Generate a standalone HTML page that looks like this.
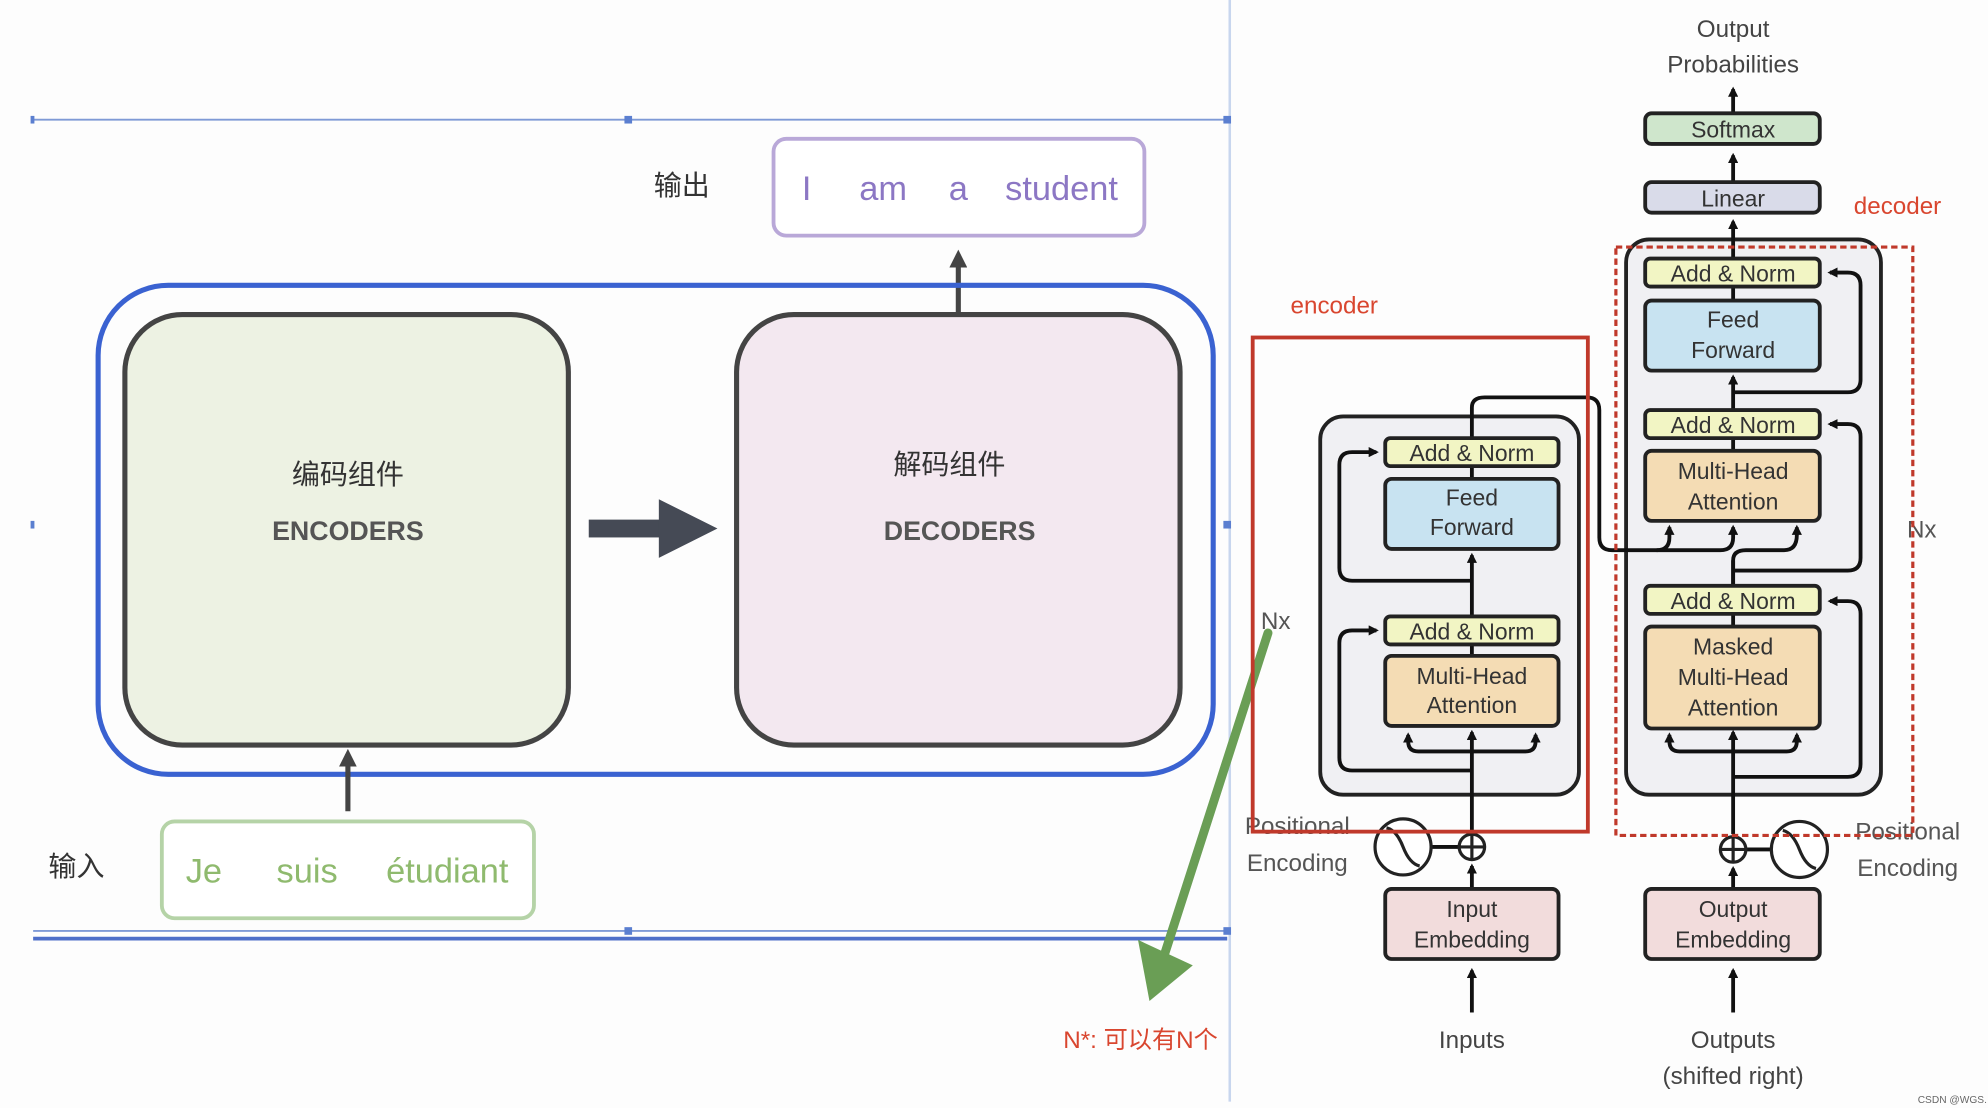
<!DOCTYPE html>
<html><head><meta charset="utf-8"><style>
html,body{margin:0;padding:0;background:#fff;}
svg{display:block;}
text{font-family:"Liberation Sans","Noto Sans CJK SC",sans-serif;}
</style></head><body>
<svg width="1988" height="1108" viewBox="0 0 1560 870" preserveAspectRatio="none" xmlns="http://www.w3.org/2000/svg">
<defs>
<marker id="ah" markerWidth="8" markerHeight="8" refX="6" refY="4" orient="auto" markerUnits="userSpaceOnUse"><path d="M0,0 L8,4 L0,8 Z" fill="#111"/></marker>
<marker id="ah2" markerWidth="14" markerHeight="14" refX="10" refY="7" orient="auto" markerUnits="userSpaceOnUse"><path d="M0,0 L14,7 L0,14 Z" fill="#444"/></marker>
</defs>
<rect width="1560" height="870" fill="#fdfdfd"/>
<!-- left panel guides -->
<line x1="965" y1="0" x2="965" y2="865" stroke="#c8d6ee" stroke-width="2"/>
<line x1="26" y1="94" x2="963" y2="94" stroke="#7f9ad6" stroke-width="1.5"/>
<line x1="26" y1="731" x2="963" y2="731" stroke="#7f9ad6" stroke-width="1.5"/>
<line x1="26" y1="737" x2="963" y2="737" stroke="#4e6fc9" stroke-width="3"/>
<g fill="#5b7fd0"><rect x="490" y="91" width="6" height="6"/><rect x="960" y="91" width="6" height="6"/><rect x="490" y="728" width="6" height="6"/><rect x="960" y="728" width="6" height="6"/><rect x="960" y="409" width="6" height="6"/><rect x="24" y="409" width="3" height="6"/><rect x="24" y="91" width="3" height="6"/></g>

<text x="535" y="153" font-size="22" text-anchor="middle" fill="#333">输出</text>
<rect x="607" y="109" width="291" height="76" rx="10" fill="#fff" stroke="#b9a8d8" stroke-width="3"/>
<g font-size="27" fill="#8c77c4" text-anchor="middle"><text x="633" y="157">I</text><text x="693" y="157">am</text><text x="752" y="157">a</text><text x="833" y="157">student</text></g>
<line x1="752" y1="245" x2="752" y2="200" stroke="#444" stroke-width="4" marker-end="url(#ah2)"/>

<rect x="77" y="224" width="875" height="384" rx="55" fill="none" stroke="#3a62d1" stroke-width="4"/>
<rect x="98" y="247" width="348" height="338" rx="45" fill="#edf2e3" stroke="#444" stroke-width="4"/>
<rect x="578" y="247" width="348" height="338" rx="45" fill="#f3e8f0" stroke="#444" stroke-width="4"/>
<text x="273" y="380" font-size="22" text-anchor="middle" fill="#333">编码组件</text>
<text x="273" y="424" font-size="21" font-weight="bold" text-anchor="middle" fill="#555">ENCODERS</text>
<text x="745" y="372" font-size="22" text-anchor="middle" fill="#333">解码组件</text>
<text x="753" y="424" font-size="21" font-weight="bold" text-anchor="middle" fill="#555">DECODERS</text>
<rect x="462" y="408" width="58" height="14" fill="#454a55"/>
<polygon points="517,392 563,415 517,438" fill="#454a55"/>
<line x1="273" y1="637" x2="273" y2="592" stroke="#444" stroke-width="4" marker-end="url(#ah2)"/>

<text x="60" y="688" font-size="22" text-anchor="middle" fill="#333">输入</text>
<rect x="127" y="645" width="292" height="76" rx="10" fill="#fff" stroke="#b5d3a7" stroke-width="3"/>
<g font-size="27" fill="#8fba6e" text-anchor="middle"><text x="160" y="693">Je</text><text x="241" y="693">suis</text><text x="351" y="693">étudiant</text></g>

<!-- green arrow -->
<line x1="995" y1="497" x2="912" y2="755" stroke="#6a9e55" stroke-width="7" stroke-linecap="round"/>
<polygon points="893,738 936,758 902,786" fill="#6a9e55"/>
<text x="895" y="823" font-size="19" text-anchor="middle" fill="#d9462f">N*: 可以有N个</text>

<!-- transformer -->
<g font-size="19" fill="#444" text-anchor="middle">
<text x="1360" y="29">Output</text><text x="1360" y="57">Probabilities</text>
<text x="1155" y="823">Inputs</text><text x="1360" y="823">Outputs</text><text x="1360" y="851">(shifted right)</text>
</g>
<g font-size="19" fill="#d9462f" text-anchor="middle"><text x="1489" y="168">decoder</text><text x="1047" y="246">encoder</text></g>

<!-- gray containers -->
<rect x="1036" y="327" width="203" height="297" rx="18" fill="#f0f0f3" stroke="#222" stroke-width="3"/>
<rect x="1276" y="188" width="200" height="436" rx="18" fill="#f0f0f3" stroke="#222" stroke-width="3"/>

<g stroke="#111" stroke-width="3" fill="none">
<!-- top stack lines -->
<line x1="1360" y1="88" x2="1360" y2="70" marker-end="url(#ah)"/>
<line x1="1360" y1="142" x2="1360" y2="122" marker-end="url(#ah)"/>
<line x1="1360" y1="202" x2="1360" y2="174" marker-end="url(#ah)"/>
<!-- decoder center -->
<line x1="1360" y1="655" x2="1360" y2="575" marker-end="url(#ah)"/>
<line x1="1360" y1="460" x2="1360" y2="440"/>
<path d="M1360,492 L1360,440 Q1360,432 1370,432 L1400,432 Q1410,432 1410,420 L1410,414" marker-end="url(#ah)"/>
<line x1="1360" y1="354" x2="1360" y2="344"/>
<line x1="1360" y1="322" x2="1360" y2="296" marker-end="url(#ah)"/>
<line x1="1360" y1="236" x2="1360" y2="225"/>
<!-- masked mha branches -->
<path d="M1360,590 L1318,590 Q1310,590 1310,582 L1310,577" marker-end="url(#ah)"/>
<path d="M1360,590 L1402,590 Q1410,590 1410,582 L1410,577" marker-end="url(#ah)"/>
<!-- decoder residuals -->
<path d="M1360,610 L1450,610 Q1460,610 1460,600 L1460,482 Q1460,472 1450,472 L1436,472" marker-end="url(#ah)"/>
<path d="M1360,448 L1450,448 Q1460,448 1460,438 L1460,343 Q1460,333 1450,333 L1436,333" marker-end="url(#ah)"/>
<path d="M1360,308 L1450,308 Q1460,308 1460,298 L1460,224 Q1460,214 1450,214 L1436,214" marker-end="url(#ah)"/>
<!-- encoder -> decoder -->
<path d="M1155,344 L1155,320 Q1155,312 1165,312 L1245,312 Q1255,312 1255,322 L1255,422 Q1255,432 1265,432 L1300,432 Q1310,432 1310,422 L1310,414" marker-end="url(#ah)"/>
<path d="M1300,432 L1350,432 Q1360,432 1360,422 L1360,414" marker-end="url(#ah)"/>
<!-- encoder center -->
<line x1="1155" y1="655" x2="1155" y2="575" marker-end="url(#ah)"/>
<line x1="1155" y1="515" x2="1155" y2="506"/>
<line x1="1155" y1="484" x2="1155" y2="436" marker-end="url(#ah)"/>
<line x1="1155" y1="376" x2="1155" y2="366"/>
<path d="M1155,590 L1113,590 Q1105,590 1105,582 L1105,577" marker-end="url(#ah)"/>
<path d="M1155,590 L1197,590 Q1205,590 1205,582 L1205,577" marker-end="url(#ah)"/>
<path d="M1155,605 L1061,605 Q1051,605 1051,595 L1051,505 Q1051,495 1061,495 L1080,495" marker-end="url(#ah)"/>
<path d="M1155,456 L1061,456 Q1051,456 1051,446 L1051,365 Q1051,355 1061,355 L1080,355" marker-end="url(#ah)"/>
<!-- bottom -->
<line x1="1155" y1="795" x2="1155" y2="762" marker-end="url(#ah)"/>
<line x1="1360" y1="795" x2="1360" y2="762" marker-end="url(#ah)"/>
<line x1="1155" y1="697" x2="1155" y2="680" marker-end="url(#ah)"/>
<line x1="1360" y1="697" x2="1360" y2="682" marker-end="url(#ah)"/>
<line x1="1123" y1="665" x2="1145" y2="665"/>
<line x1="1370" y1="667" x2="1390" y2="667"/>
</g>

<g stroke="#222" stroke-width="3">
<rect x="1291" y="89" width="137" height="24" rx="5" fill="#cfe6cc"/>
<rect x="1291" y="143" width="137" height="24" rx="5" fill="#d9dbe9"/>
<rect x="1291" y="203" width="137" height="22" rx="4" fill="#f2f5c4"/>
<rect x="1291" y="236" width="137" height="55" rx="5" fill="#c8e3f1"/>
<rect x="1291" y="322" width="137" height="22" rx="4" fill="#f2f5c4"/>
<rect x="1291" y="354" width="137" height="55" rx="5" fill="#f4dcb4"/>
<rect x="1291" y="460" width="137" height="22" rx="4" fill="#f2f5c4"/>
<rect x="1291" y="492" width="137" height="80" rx="5" fill="#f4dcb4"/>
<rect x="1291" y="698" width="137" height="55" rx="5" fill="#f2dcdc"/>
<rect x="1087" y="344" width="136" height="22" rx="4" fill="#f2f5c4"/>
<rect x="1087" y="376" width="136" height="55" rx="5" fill="#c8e3f1"/>
<rect x="1087" y="484" width="136" height="22" rx="4" fill="#f2f5c4"/>
<rect x="1087" y="515" width="136" height="55" rx="5" fill="#f4dcb4"/>
<rect x="1087" y="698" width="136" height="55" rx="5" fill="#f2dcdc"/>
</g>
<!-- plus & sine -->
<g stroke="#222" stroke-width="2.5" fill="#fff">
<circle cx="1155" cy="665" r="10"/><circle cx="1360" cy="667" r="10"/>
<circle cx="1101" cy="665" r="22"/><circle cx="1412" cy="667" r="22"/>
</g>
<g stroke="#222" stroke-width="2.5" fill="none">
<path d="M1145,665 H1165 M1155,655 V675 M1350,667 H1370 M1360,657 V677"/>
<path d="M1088,650 Q1096,652 1101,665 Q1106,678 1114,680"/>
<path d="M1399,652 Q1407,654 1412,667 Q1417,680 1425,682"/>
</g>

<g font-size="18" fill="#333" text-anchor="middle">
<text x="1360" y="108">Softmax</text><text x="1360" y="162">Linear</text>
<text x="1360" y="221">Add &amp; Norm</text><text x="1360" y="257">Feed</text><text x="1360" y="281">Forward</text>
<text x="1360" y="340">Add &amp; Norm</text><text x="1360" y="376">Multi-Head</text><text x="1360" y="400">Attention</text>
<text x="1360" y="478">Add &amp; Norm</text><text x="1360" y="514">Masked</text><text x="1360" y="538">Multi-Head</text><text x="1360" y="562">Attention</text>
<text x="1360" y="720">Output</text><text x="1360" y="744">Embedding</text>
<text x="1155" y="362">Add &amp; Norm</text><text x="1155" y="397">Feed</text><text x="1155" y="420">Forward</text>
<text x="1155" y="502">Add &amp; Norm</text><text x="1155" y="537">Multi-Head</text><text x="1155" y="560">Attention</text>
<text x="1155" y="720">Input</text><text x="1155" y="744">Embedding</text>
</g>
<g font-size="19" fill="#555" text-anchor="middle">
<text x="1018" y="655">Positional</text><text x="1018" y="684">Encoding</text>
<text x="1497" y="659">Positional</text><text x="1497" y="688">Encoding</text>
<text x="1001" y="494">Nx</text><text x="1508" y="422">Nx</text>
</g>

<!-- red boxes -->
<rect x="983" y="265" width="263" height="388" fill="none" stroke="#c0392b" stroke-width="3"/>
<rect x="1268" y="194" width="233" height="462" fill="none" stroke="#c0392b" stroke-width="2.5" stroke-dasharray="5,3"/>
<text x="1532" y="866" font-size="8" fill="#666" text-anchor="middle">CSDN @WGS.</text>
</svg>
</body></html>
